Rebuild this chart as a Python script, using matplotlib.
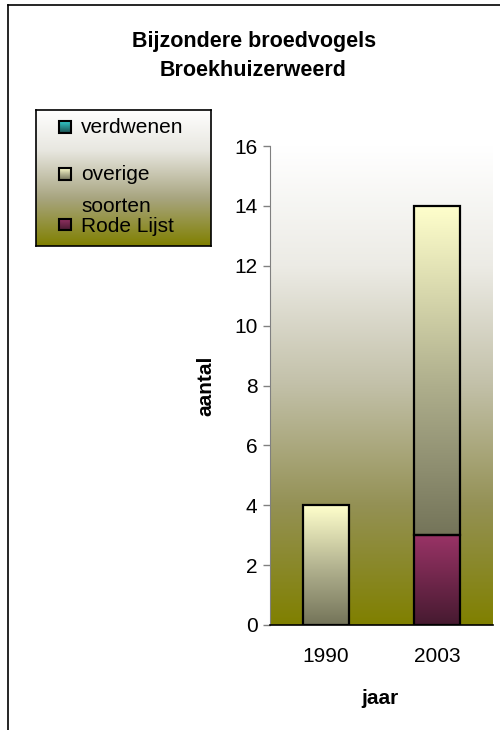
import numpy as np
import matplotlib
matplotlib.use("Agg")
import matplotlib.pyplot as plt
import matplotlib.colors as mcolors
from matplotlib.lines import Line2D
from matplotlib.patches import Rectangle

plt.rcParams['font.family'] = ['Liberation Sans', 'DejaVu Sans']

# data
years = ['1990', '2003']
series_names = ['verdwenen', 'overige soorten', 'Rode Lijst']
rode_lijst = [0, 3]
overige = [4, 11]
verdwenen = [0, 0]
yticks = [0, 2, 4, 6, 8, 10, 12, 14, 16]

W, H = 500, 730


def px_box(x0, y0, x1, y1):
    # pixel box (top-left origin) -> figure fraction rect
    return [x0 / W, 1 - y1 / H, (x1 - x0) / W, (y1 - y0) / H]


def vgrad(ax, extent, cmap, clip=None, zorder=1):
    grad = np.linspace(0, 1, 256).reshape(-1, 1)
    im = ax.imshow(grad, extent=extent, origin='lower', cmap=cmap,
                   aspect='auto', zorder=zorder, interpolation='bicubic')
    if clip is not None:
        im.set_clip_path(clip)
    return im


bg_cmap = mcolors.LinearSegmentedColormap.from_list(
    'bg', [(0.0, '#808000'), (0.25, '#949155'), (0.5, '#c2c0a8'),
           (0.75, '#ecebe5'), (1.0, '#ffffff')])
pale_cmap = mcolors.LinearSegmentedColormap.from_list(
    'pale', [(0.0, '#747459'), (0.45, '#aeae8c'), (1.0, '#ffffcc')])
red_cmap = mcolors.LinearSegmentedColormap.from_list(
    'red', [(0.0, '#461a30'), (1.0, '#993366')])
teal_cmap = mcolors.LinearSegmentedColormap.from_list(
    'teal', [(0.0, '#1a4d4d'), (1.0, '#33cccc')])
legend_cmap = mcolors.LinearSegmentedColormap.from_list(
    'leg', [(0.0, '#808000'), (0.35, '#a8a580'), (0.7, '#e8e7e0'), (1.0, '#ffffff')])

fig = plt.figure(figsize=(5, 7.3), dpi=100)
fig.patch.set_facecolor('white')

# outer chart border (runs past the right and bottom edge)
fig.add_artist(Line2D([8 / W, 8 / W], [-0.01, 1 - 5 / H], transform=fig.transFigure,
                      color='black', lw=1.2))
fig.add_artist(Line2D([8 / W, 1.01], [1 - 5 / H, 1 - 5 / H], transform=fig.transFigure,
                      color='black', lw=1.2))

# title
fig.text(254 / W, 1 - 42 / H, 'Bijzondere broedvogels', ha='center', va='center',
         fontsize=15.5, fontweight='bold')
fig.text(253 / W, 1 - 71 / H, 'Broekhuizerweerd', ha='center', va='center',
         fontsize=15.5, fontweight='bold')

# main plot
ax = fig.add_axes(px_box(270, 146, 493, 625))
x = np.arange(len(years))
ax.set_xlim(-0.5, 1.5)
ax.set_ylim(0, 16)

vgrad(ax, (-0.5, 1.5, 0, 16), bg_cmap, zorder=0)

width = 0.41
b1 = ax.bar(x, rode_lijst, width, color='none', edgecolor='black', lw=1.6, zorder=3)
b2 = ax.bar(x, overige, width, bottom=rode_lijst, color='none', edgecolor='black',
            lw=1.6, zorder=3)
bot3 = np.array(rode_lijst) + np.array(overige)
b3 = ax.bar(x, verdwenen, width, bottom=bot3, color='none', edgecolor='black',
            lw=1.6, zorder=3)

for bars, cmap in [(b1, red_cmap), (b2, pale_cmap), (b3, teal_cmap)]:
    for p in bars:
        if p.get_height() <= 0:
            p.set_visible(False)
            continue
        x0, y0 = p.get_x(), p.get_y()
        ext = (x0, x0 + p.get_width(), y0, y0 + p.get_height())
        vgrad(ax, ext, cmap, clip=p, zorder=2)

ax.set_xlim(-0.5, 1.5)
ax.set_ylim(0, 16)
ax.set_xticks(x)
ax.set_xticklabels(years)
ax.set_yticks(yticks)
ax.tick_params(axis='x', length=0, pad=16, labelsize=15)
ax.tick_params(axis='y', length=5, width=1, color='#808080', pad=4, labelsize=15)
for s in ['top', 'right']:
    ax.spines[s].set_visible(False)
ax.spines['left'].set_color('#808080')
ax.spines['bottom'].set_color('black')
ax.spines['bottom'].set_linewidth(1.2)

ax.set_ylabel('aantal', fontsize=15, fontweight='bold')
ax.yaxis.set_label_coords(-0.247, 0.5)
ax.set_xlabel('jaar', fontsize=15, fontweight='bold')
ax.xaxis.set_label_coords(0.493, -0.133)

# legend box with gradient
lax = fig.add_axes(px_box(36, 110, 211, 246))
lax.set_xlim(0, 1)
lax.set_ylim(0, 1)
vgrad(lax, (0, 1, 0, 1), legend_cmap, zorder=0)
lax.set_xticks([])
lax.set_yticks([])
for s in lax.spines.values():
    s.set_color('black')
    s.set_linewidth(1.2)

# marker centres and text baselines (legend axes fraction)
marker_y = [0.875, 0.526, 0.158]
baselines = [[0.831], [0.485, 0.25], [0.104]]
entry_cmaps = [teal_cmap, pale_cmap, red_cmap]
mw, mh = 0.069, 0.088
for yy, bl, cm, lab in zip(marker_y, baselines, entry_cmaps, series_names):
    sq = Rectangle((0.131, yy - mh / 2), mw, mh, facecolor='none',
                   edgecolor='black', lw=1.5, zorder=3)
    lax.add_patch(sq)
    vgrad(lax, (0.131, 0.131 + mw, yy - mh / 2, yy + mh / 2), cm, clip=sq, zorder=2)
    lines = lab.split(' ') if len(bl) > 1 else [lab]
    for line, b in zip(lines, bl):
        lax.text(0.257, b, line, ha='left', va='baseline', fontsize=15, zorder=4)
lax.set_xlim(0, 1)
lax.set_ylim(0, 1)

fig.savefig('out.png', dpi=100)
